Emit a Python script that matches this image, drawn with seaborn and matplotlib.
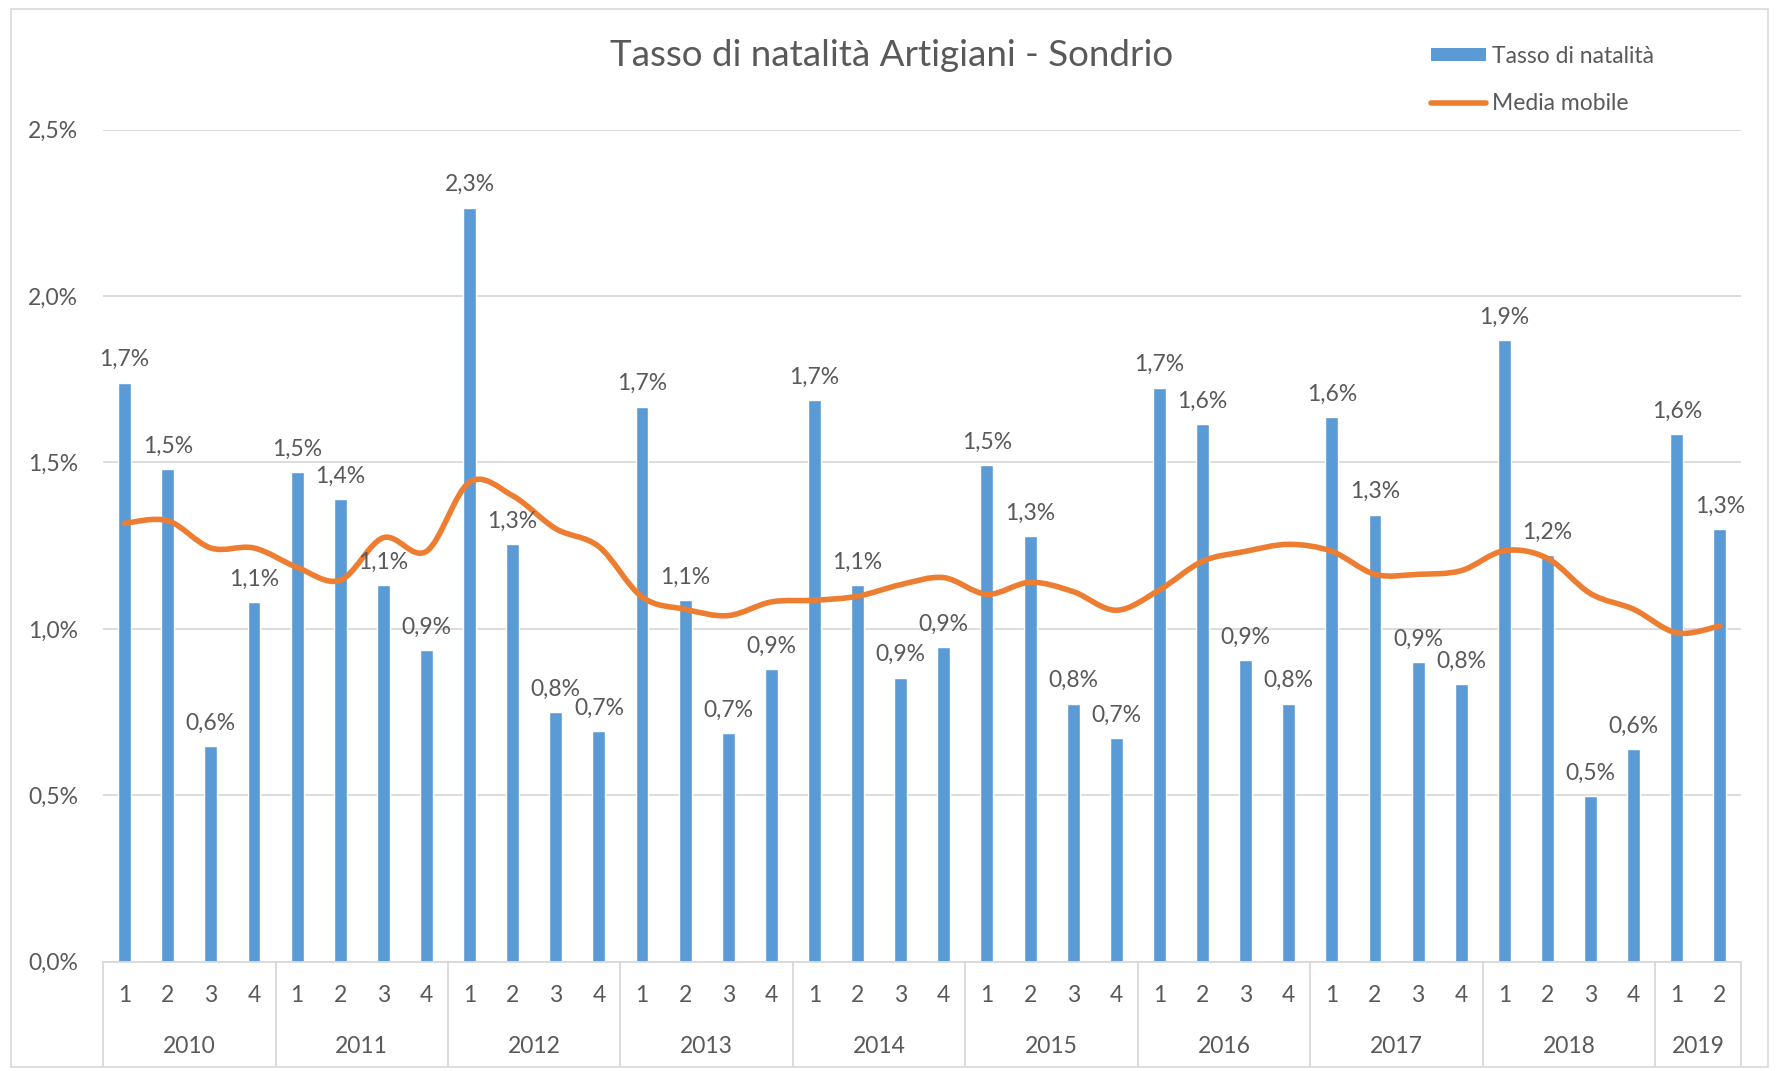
import numpy as np
import pandas as pd
import matplotlib
matplotlib.use("Agg")
import matplotlib.pyplot as plt
import seaborn as sns
from matplotlib.path import Path
from matplotlib.patches import PathPatch, Rectangle, Patch
from matplotlib.lines import Line2D
import matplotlib.transforms as mtransforms

# ---------------- data ----------------
years = ["2010", "2011", "2012", "2013", "2014", "2015", "2016", "2017", "2018", "2019"]
quarters_per_year = [4, 4, 4, 4, 4, 4, 4, 4, 4, 2]

tasso = [1.74, 1.48, 0.647, 1.08,
         1.47, 1.39, 1.131, 0.937,
         2.265, 1.254, 0.750, 0.693,
         1.668, 1.086, 0.687, 0.879,
         1.688, 1.131, 0.853, 0.945,
         1.492, 1.278, 0.775, 0.672,
         1.725, 1.615, 0.906, 0.775,
         1.637, 1.343, 0.900, 0.834,
         1.868, 1.222, 0.497, 0.638,
         1.585, 1.299]

media = [1.317, 1.325, 1.243, 1.243,
         1.185, 1.146, 1.274, 1.233,
         1.441, 1.400, 1.301, 1.247,
         1.096, 1.059, 1.040, 1.081,
         1.086, 1.098, 1.133, 1.154,
         1.104, 1.140, 1.112, 1.056,
         1.117, 1.203, 1.233, 1.254,
         1.233, 1.164, 1.164, 1.175,
         1.235, 1.212, 1.106, 1.059,
         0.988, 1.009]

labels_pct = ["1,7%", "1,5%", "0,6%", "1,1%",
              "1,5%", "1,4%", "1,1%", "0,9%",
              "2,3%", "1,3%", "0,8%", "0,7%",
              "1,7%", "1,1%", "0,7%", "0,9%",
              "1,7%", "1,1%", "0,9%", "0,9%",
              "1,5%", "1,3%", "0,8%", "0,7%",
              "1,7%", "1,6%", "0,9%", "0,8%",
              "1,6%", "1,3%", "0,9%", "0,8%",
              "1,9%", "1,2%", "0,5%", "0,6%",
              "1,6%", "1,3%"]

yticks = [0.0, 0.5, 1.0, 1.5, 2.0, 2.5]
ytick_labels = ["0,0%", "0,5%", "1,0%", "1,5%", "2,0%", "2,5%"]

title = "Tasso di natalità Artigiani - Sondrio"
legend_bar = "Tasso di natalità"
legend_line = "Media mobile"

# ---------------- build frame ----------------
year_col, q_col = [], []
for y, n in zip(years, quarters_per_year):
    for q in range(1, n + 1):
        year_col.append(y)
        q_col.append(str(q))
cat = [f"{y}-{q}" for y, q in zip(year_col, q_col)]
df = pd.DataFrame({"cat": cat, "year": year_col, "q": q_col,
                   "tasso": tasso, "media": media})

# ---------------- style ----------------
sns.set_theme(style="white")
FONT = ["Lato", "DejaVu Sans"]
plt.rcParams["font.family"] = FONT
GREY = "#595959"
GRID = "#d9d9d9"
BLUE = "#5B9BD5"
ORANGE = "#ED7D31"
FS = 16.5

fig = plt.figure(figsize=(17.77, 10.71), dpi=100)
ax = fig.add_axes([0.058, 0.102, 0.922, 0.777])

sns.barplot(data=df, x="cat", y="tasso", order=cat, color=BLUE,
            saturation=1, width=0.3, ax=ax, zorder=2)

n = len(cat)
ax.set_xlim(-0.5, n - 0.5)
ax.set_ylim(0, 2.5)
ax.set_yticks(yticks)
ax.set_yticklabels(ytick_labels, color=GREY, fontsize=FS)
ax.yaxis.grid(True, color=GRID, lw=1.3, zorder=0)
ax.set_axisbelow(True)
for s in ["top", "right", "left"]:
    ax.spines[s].set_visible(False)
ax.spines["bottom"].set_color(GRID)
ax.spines["bottom"].set_linewidth(1.3)
ax.tick_params(axis="y", length=0, pad=18)
ax.set_xlabel("")
ax.set_ylabel("")

# quarter tick labels
ax.set_xticks(range(n))
ax.set_xticklabels(q_col, color=GREY, fontsize=FS)
ax.tick_params(axis="x", length=0, pad=17)

# year labels and separators
trans = mtransforms.blended_transform_factory(ax.transData, ax.transAxes)
start = 0
bounds = [-0.5]
for y, k in zip(years, quarters_per_year):
    center = start + (k - 1) / 2
    ax.text(center, -0.102, y, transform=trans, ha="center", va="center",
            color=GREY, fontsize=FS)
    start += k
    bounds.append(start - 0.5)
for b in bounds:
    ax.plot([b, b], [0, -0.125], transform=trans, color=GRID, lw=1.3,
            clip_on=False)

# data labels
for i, (v, lab) in enumerate(zip(tasso, labels_pct)):
    ax.annotate(lab, (i, v), xytext=(0, 9), textcoords="offset points",
                ha="center", va="bottom", color=GREY, fontsize=FS, zorder=4)

# smoothed moving-average line (cubic Bezier through the data points)
xs = np.arange(n, dtype=float)
ys = np.asarray(media, dtype=float)
verts = [(xs[0], ys[0])]
codes = [Path.MOVETO]
for i in range(n - 1):
    p0 = np.array([xs[max(i - 1, 0)], ys[max(i - 1, 0)]])
    p1 = np.array([xs[i], ys[i]])
    p2 = np.array([xs[i + 1], ys[i + 1]])
    p3 = np.array([xs[min(i + 2, n - 1)], ys[min(i + 2, n - 1)]])
    c1 = p1 + (p2 - p0) / 6.0
    c2 = p2 - (p3 - p1) / 6.0
    verts += [tuple(c1), tuple(c2), tuple(p2)]
    codes += [Path.CURVE4, Path.CURVE4, Path.CURVE4]
patch = PathPatch(Path(verts, codes), facecolor="none", edgecolor=ORANGE,
                  lw=4.0, capstyle="round", joinstyle="round", zorder=3)
ax.add_patch(patch)

# title
fig.text(0.502, 0.948, title, ha="center", va="center", color=GREY,
         fontsize=26.5)

# legend
handles = [Patch(facecolor=BLUE, edgecolor="none"),
           Line2D([0], [0], color=ORANGE, lw=4.0)]
leg = fig.legend(handles, [legend_bar, legend_line], loc="upper left",
                 bbox_to_anchor=(0.799, 0.968), frameon=False, fontsize=FS,
                 borderpad=0, handlelength=2.4, handleheight=0.5,
                 handletextpad=0.25, labelspacing=1.15, labelcolor=GREY)

# outer border
fig.patches.append(Rectangle((0.006, 0.004), 0.989, 0.988,
                             transform=fig.transFigure, fill=False,
                             edgecolor=GRID, lw=1.2))

fig.savefig("out.png", dpi=100, facecolor="white")
